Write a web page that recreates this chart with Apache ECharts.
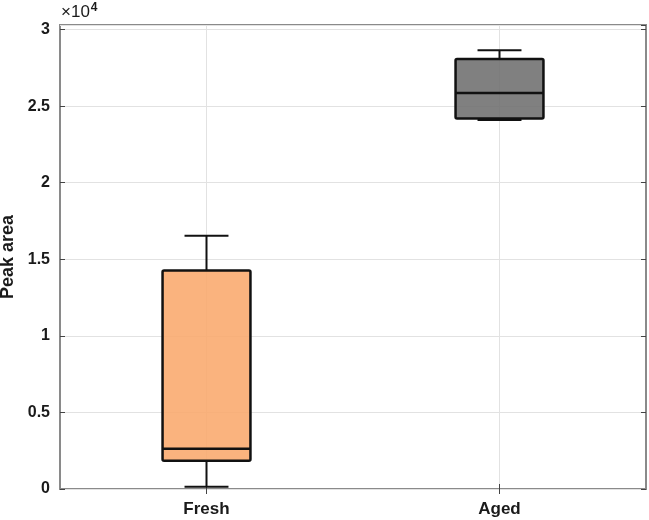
<!DOCTYPE html>
<html>
<head>
<meta charset="utf-8">
<script src="https://cdn.jsdelivr.net/npm/echarts@6/dist/echarts.min.js"></script>
<style>html,body{margin:0;padding:0;background:#fff;}#main{width:649px;height:520px;}</style>
</head>
<body>
<div id="main"></div>
<script>
const categories = ['Fresh', 'Aged'];
const whiskerLow = [150, 24100];
const quartile1 = [1850, 24200];
const medians = [2630, 25860];
const quartile3 = [14270, 28080];
const whiskerHigh = [16540, 28650];
const boxColors = ['rgba(250,171,112,0.9)', 'rgba(114,114,114,0.9)'];
const yTicks = [0, 5000, 10000, 15000, 20000, 25000, 30000];

const data = categories.map((c, i) => [i, whiskerLow[i], quartile1[i], medians[i], quartile3[i], whiskerHigh[i]]);

const chart = echarts.init(document.getElementById('main'));
const labelFont = {fontFamily: 'Liberation Sans, Arial, sans-serif', fontWeight: 'bold', color: '#1a1a1a'};

chart.setOption({
  animation: false,
  grid: {left: 60, right: 3, top: 25, bottom: 31, containLabel: false, outerBoundsMode: 'none',
    show: true, borderColor: '#8a8a8a', borderWidth: 2, backgroundColor: 'transparent'},
  xAxis: [{
    type: 'category', data: categories, position: 'bottom',
    axisLine: {show: false},
    axisTick: {show: true, inside: true, alignWithLabel: true, length: 5, lineStyle: {color: '#444'}},
    splitLine: {show: true, alignWithLabel: true, lineStyle: {color: '#e2e2e2', width: 1}},
    axisLabel: Object.assign({fontSize: 17, margin: 12}, labelFont)
  }, {
    type: 'category', data: categories, position: 'top',
    axisLine: {show: false},
    axisTick: {show: true, inside: true, alignWithLabel: true, length: 5, lineStyle: {color: '#444'}},
    axisLabel: {show: false}, splitLine: {show: false}
  }],
  yAxis: [{
    type: 'value', min: 0, max: 30300, interval: 5000,
    name: 'Peak area', nameLocation: 'middle', nameRotate: 90, nameGap: 41,
    nameTextStyle: Object.assign({fontSize: 18}, labelFont),
    axisLine: {show: false},
    axisTick: {show: true, inside: true, length: 5, lineStyle: {color: '#444'}},
    splitLine: {show: true, lineStyle: {color: '#e2e2e2', width: 1}},
    axisLabel: Object.assign({fontSize: 16, margin: 10, showMaxLabel: false,
      formatter: v => yTicks.indexOf(v) >= 0 ? String(v / 10000) : ''}, labelFont)
  }, {
    type: 'value', min: 0, max: 30300, interval: 5000, position: 'right',
    axisLine: {show: false},
    axisTick: {show: true, inside: true, length: 5, lineStyle: {color: '#444'}},
    splitLine: {show: false}, axisLabel: {show: false}
  }],
  graphic: [{
    type: 'text', left: 61, top: 2,
    style: {
      text: '×10{s|4}',
      fontFamily: 'Liberation Sans, Arial, sans-serif', fontSize: 17, fill: '#1a1a1a',
      rich: {s: {fontSize: 12, fontWeight: 'bold', verticalAlign: 'top', padding: [0, 0, 9, 1], fontFamily: 'Liberation Sans, Arial, sans-serif', fill: '#1a1a1a'}}
    }
  }],
  series: [{
    type: 'custom',
    data: data,
    encode: {x: 0, y: [1, 2, 3, 4, 5]},
    renderItem: function (params, api) {
      const idx = api.value(0);
      const band = api.size([1, 0])[0];
      const hw = band * 0.15;
      const cw = band * 0.075;
      const pLow = api.coord([idx, api.value(1)]);
      const pQ1 = api.coord([idx, api.value(2)]);
      const pMed = api.coord([idx, api.value(3)]);
      const pQ3 = api.coord([idx, api.value(4)]);
      const pHigh = api.coord([idx, api.value(5)]);
      const cx = pQ1[0];
      const stroke = '#111';
      const ln = (x1, y1, x2, y2, w) => ({type: 'line', shape: {x1, y1, x2, y2}, style: {stroke: stroke, lineWidth: w}});
      return {
        type: 'group',
        children: [
          ln(cx, pQ3[1], cx, pHigh[1], 2),
          ln(cx, pQ1[1], cx, pLow[1], 2),
          ln(cx - cw, pHigh[1], cx + cw, pHigh[1], 2),
          ln(cx - cw, pLow[1], cx + cw, pLow[1], 2),
          {type: 'rect', shape: {x: cx - hw, y: pQ3[1], width: 2 * hw, height: pQ1[1] - pQ3[1], r: 1.5},
            style: {fill: boxColors[params.dataIndex], stroke: stroke, lineWidth: 2.5}},
          ln(cx - hw, pMed[1], cx + hw, pMed[1], 2.5)
        ]
      };
    }
  }]
});
</script>
</body>
</html>
